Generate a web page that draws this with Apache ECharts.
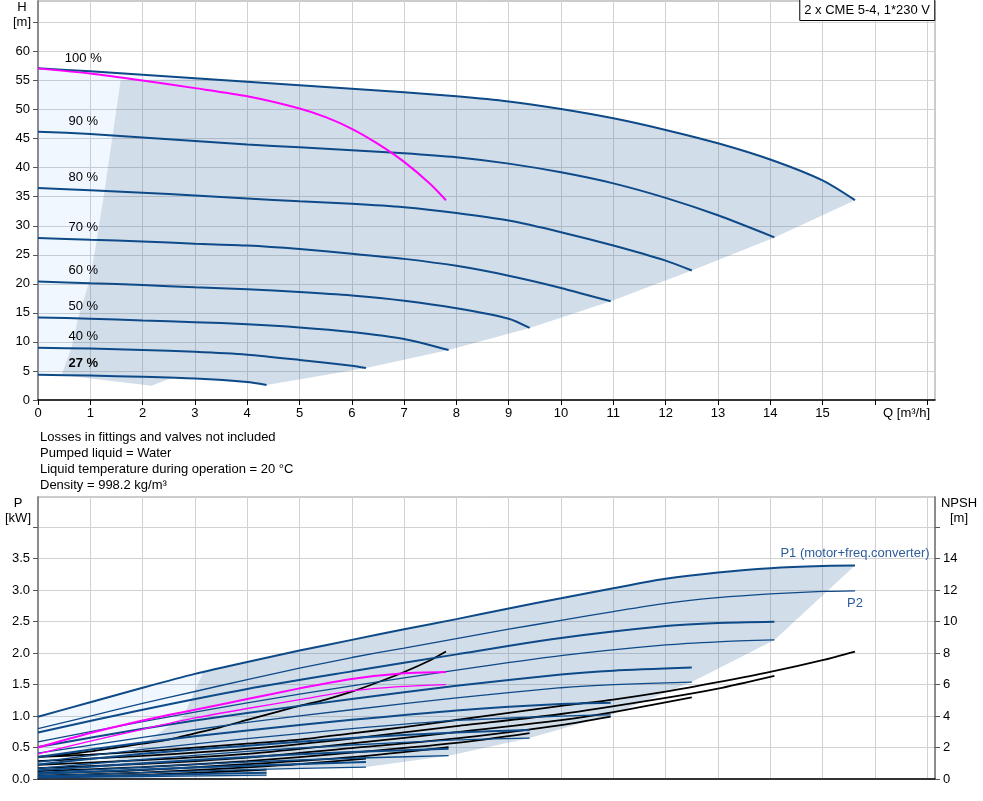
<!DOCTYPE html>
<html>
<head>
<meta charset="utf-8">
<title>2 x CME 5-4, 1*230 V</title>
<script src="https://cdn.jsdelivr.net/npm/echarts@6/dist/echarts.min.js"></script>
<style>
  html, body { margin: 0; padding: 0; background: #fff; }
  #chart { width: 983px; height: 801px; }
</style>
</head>
<body>
<div id="chart"></div>
<script>
// ---- data ----------------------------------------------------------------
// head curves H [m] vs Q [m³/h], two pumps, per speed
const h100 = [[0,57.1],[1,56.6],[2,56.0],[3,55.4],[4,54.8],[5,54.2],[6,53.6],[7,53.0],[8,52.3],[9,51.4],[10,50.1],[11,48.5],[12,46.5],[13,44.2],[14,41.4],[15,37.8],[15.62,34.4]];
const h90 = [[0,46.2],[1,45.8],[2,45.2],[3,44.6],[4,44.0],[5,43.5],[6,43.0],[7,42.5],[8,41.8],[9,40.7],[10,39.2],[11,37.3],[12,34.8],[13,31.8],[14.08,28.0]];
const h80 = [[0,36.5],[1,36.1],[2,35.7],[3,35.2],[4,34.7],[5,34.2],[6,33.8],[7,33.2],[8,32.2],[9,30.9],[10,28.9],[11,26.6],[12,24.0],[12.5,22.3]];
const h70 = [[0,27.9],[1,27.6],[2,27.3],[3,26.9],[4,26.6],[5,26.0],[6,25.2],[7,24.3],[8,23.1],[9,21.4],[10,19.3],[10.95,17.0]];
const h60 = [[0,20.4],[1,20.1],[2,19.8],[3,19.4],[4,19.05],[5,18.6],[6,18.0],[7,17.1],[8,15.8],[9,14.0],[9.4,12.4]];
const h50 = [[0,14.2],[1,14.0],[2,13.7],[3,13.4],[4,13.05],[5,12.5],[6,11.7],[7,10.5],[7.85,8.6]];
const h40 = [[0,9.0],[1,8.85],[2,8.6],[3,8.3],[4,7.8],[5,6.9],[6,5.9],[6.27,5.5]];
const h27 = [[0,4.35],[1,4.2],[2,4.0],[3,3.7],[4,3.1],[4.37,2.6]];
// one pump running (magenta)
const hSingle = [[0,57.1],[1,56.2],[2,55.0],[3,53.7],[4,52.3],[5,50.2],[5.5,48.7],[6,46.7],[6.5,44.1],[7,41.0],[7.5,37.2],[7.8,34.4]];
const speedLabels = ['100 %', '90 %', '80 %', '70 %', '60 %', '50 %', '40 %', '27 %'];

// operating area in the H chart
const hAreaLight = [[0,57.1],[1,56.6],[2,56.0],[3,55.4],[3.2,55.3],[1.58,55.0],[1.28,36.5],[1.09,25.7],[0.98,20.4],[0.77,14.2],[0.64,9.0],[0.45,4.3],[0,4.35]];
const hAreaDark = [[1.58,55.0],[3.2,55.3],[4,54.8],[5,54.2],[6,53.6],[7,53.0],[8,52.3],[9,51.4],[10,50.1],[11,48.5],[12,46.5],[13,44.2],[14,41.4],[15,37.8],[15.62,34.4],
  [14.08,28.0],[12.5,22.3],[10.95,17.0],[9.4,12.4],[7.85,8.6],[6.27,5.5],[4.37,2.6],[3,3.7],[2.59,3.9],[2.17,2.45],[0.45,4.3],
  [0.64,9.0],[0.77,14.2],[0.98,20.4],[1.09,25.7],[1.28,36.5]];

// power P1 (motor+freq.converter) and P2 [kW]
const p1_100 = [[0,0.99],[1,1.22],[2,1.45],[3,1.67],[4,1.86],[5,2.04],[6,2.21],[7,2.38],[8,2.54],[9,2.71],[10,2.87],[11,3.03],[12,3.18],[13,3.28],[14,3.35],[15,3.385],[15.62,3.39]];
const p2_100 = [[0,0.80],[1,1.00],[2,1.20],[3,1.39],[4,1.58],[5,1.76],[6,1.93],[7,2.08],[8,2.23],[9,2.38],[10,2.52],[11,2.66],[12,2.79],[13,2.88],[14,2.94],[15,2.98],[15.62,2.99]];
const p1_90 = [[0,0.74],[2,1.10],[4,1.43],[6,1.71],[8,1.98],[10,2.24],[12,2.43],[13,2.48],[14.08,2.50]];
const p2_90 = [[0,0.59],[2,0.91],[4,1.21],[6,1.48],[8,1.73],[10,1.96],[12,2.13],[13,2.18],[14.08,2.21]];
const p1_80 = [[0,0.51],[2,0.80],[4,1.05],[6,1.27],[8,1.48],[10,1.66],[11,1.72],[12.5,1.77]];
const p2_80 = [[0,0.41],[2,0.66],[4,0.90],[6,1.10],[8,1.29],[10,1.45],[11,1.50],[12.5,1.54]];
const p1_70 = [[0,0.35],[2,0.58],[4,0.77],[6,0.94],[8,1.09],[10,1.19],[10.95,1.21]];
const p2_70 = [[0,0.27],[2,0.47],[4,0.64],[6,0.80],[8,0.93],[10,1.00],[10.95,1.02]];
const p1_60 = [[0,0.23],[2,0.40],[4,0.53],[6,0.65],[8,0.74],[9.4,0.78]];
const p2_60 = [[0,0.17],[2,0.31],[4,0.44],[6,0.54],[8,0.62],[9.4,0.65]];
const p1_50 = [[0,0.14],[2,0.25],[4,0.35],[6,0.43],[7.85,0.48]];
const p2_50 = [[0,0.10],[2,0.19],[4,0.27],[6,0.33],[7.85,0.37]];
const p1_40 = [[0,0.08],[2,0.15],[4,0.21],[6.27,0.27]];
const p2_40 = [[0,0.05],[2,0.10],[4,0.15],[6.27,0.19]];
const p1_27 = [[0,0.03],[2,0.06],[4.37,0.10]];
const p2_27 = [[0,0.02],[2,0.04],[4.37,0.06]];
const p1Single = [[0,0.50],[1,0.73],[2,0.93],[3,1.10],[4,1.27],[5,1.44],[6,1.59],[7,1.68],[7.8,1.70]];
const p2Single = [[0,0.40],[1,0.60],[2,0.79],[3,0.97],[4,1.12],[5,1.26],[6,1.40],[7,1.47],[7.8,1.50]];

// operating area in the P chart
const pAreaLight = [[0,0.99],[1,1.22],[2,1.45],[3,1.67],[3.16,1.70],[2.78,0.99],[1.8,0.45],[0.9,0.01],[0,0]];
const pAreaDark = [[3.16,1.70],[4,1.86],[5,2.04],[6,2.21],[7,2.38],[8,2.54],[9,2.71],[10,2.87],[11,3.03],[12,3.18],[13,3.28],[14,3.35],[15,3.385],[15.62,3.39],
  [14.08,2.21],[12.5,1.54],[10.95,1.02],[9.4,0.65],[7.85,0.37],[6.27,0.19],[4.37,0.17],[4.37,0.04],[0.9,0.01],[1.8,0.45],[2.78,0.99]];

// NPSH [m]
const n100 = [[0,1.4],[1,1.55],[2,1.75],[3,2.0],[4,2.25],[5,2.5],[6,2.9],[7,3.3],[8,3.75],[9,4.2],[10,4.65],[11,5.05],[12,5.55],[13,6.15],[14,6.8],[15,7.55],[15.62,8.1]];
const n90 = [[0,1.13],[2,1.47],[4,1.91],[6,2.57],[8,3.36],[10,4.13],[12,5.16],[13,5.75],[14.08,6.56]];
const n80 = [[0,0.9],[2,1.2],[4,1.6],[6,2.26],[8,2.98],[10,3.74],[11,4.25],[12.5,5.18]];
const n70 = [[0,0.69],[2,0.96],[4,1.36],[6,1.96],[8,2.58],[10,3.43],[10.95,3.97]];
const n60 = [[0,0.5],[2,0.75],[4,1.14],[6,1.67],[8,2.29],[9.4,2.92]];
const n50 = [[0,0.35],[2,0.56],[4,0.94],[6,1.39],[7.85,2.03]];
const n40 = [[0,0.22],[2,0.4],[4,0.74],[5,0.94],[6.27,1.3]];
const n27 = [[0,0.1],[2,0.26],[4,0.54],[4.37,0.59]];
const nSingle = [[0,1.4],[0.5,1.55],[1,1.75],[1.5,2.0],[2,2.25],[2.5,2.5],[3,2.9],[3.5,3.3],[4,3.75],[4.5,4.2],[5,4.65],[5.5,5.05],[6,5.55],[6.5,6.15],[7,6.8],[7.5,7.55],[7.8,8.1]];

// axis ticks and tick labels
const qTicks = [0,1,2,3,4,5,6,7,8,9,10,11,12,13,14,15,16,17];
const qLabels = ['0','1','2','3','4','5','6','7','8','9','10','11','12','13','14','15'];
const hTicks = [0,5,10,15,20,25,30,35,40,45,50,55,60,65];
const hLabels = ['0','5','10','15','20','25','30','35','40','45','50','55','60'];
const pTicks = [0,0.5,1,1.5,2,2.5,3,3.5,4];
const pLabels = ['0.0','0.5','1.0','1.5','2.0','2.5','3.0','3.5'];
const npshTicks = [0,2,4,6,8,10,12,14,16];
const npshLabels = ['0','2','4','6','8','10','12','14'];
const notes = [
  'Losses in fittings and valves not included',
  'Pumped liquid = Water',
  'Liquid temperature during operation = 20 °C',
  'Density = 998.2 kg/m³'
];

// ---- chart ---------------------------------------------------------------
const FONT = 'Liberation Sans, Arial, sans-serif';
const BLUE = '#0d4a87';
const MAGENTA = '#ff00ff';
const GRIDLINE = '#d2d2d2';

const chart = echarts.init(document.getElementById('chart'), null, { renderer: 'canvas' });

function curve(data, xi, yi, color, width, extra) {
  return Object.assign({
    type: 'line', xAxisIndex: xi, yAxisIndex: yi, data: data,
    symbol: 'none', smooth: 0.25, silent: true, z: 3,
    lineStyle: { color: color, width: width }
  }, extra || {});
}

function area(points, xi, yi, fill) {
  return {
    type: 'custom', xAxisIndex: xi, yAxisIndex: yi, silent: true, z: 1,
    data: [[0, 0]],
    renderItem: (params, api) => ({
      type: 'polygon',
      shape: { points: points.map(p => api.coord(p)) },
      style: { fill: fill }
    })
  };
}

function tag(point, text, pos, color, bold, offset) {
  return {
    symbol: 'circle', symbolSize: 0, silent: true, animation: false,
    data: [{ coord: point }],
    label: {
      show: true, formatter: text, position: pos, distance: 6, offset: offset || [0, 0],
      color: color, fontSize: 13, fontFamily: FONT, fontWeight: bold ? 'bold' : 'normal'
    }
  };
}

const headCurves = [h100, h90, h80, h70, h60, h50, h40, h27];
const p1Curves = [p1_100, p1_90, p1_80, p1_70, p1_60, p1_50, p1_40, p1_27];
const p2Curves = [p2_100, p2_90, p2_80, p2_70, p2_60, p2_50, p2_40, p2_27];
const npshCurves = [n100, n90, n80, n70, n60, n50, n40, n27];

const series = [
  area(hAreaLight, 0, 0, 'rgba(60,150,240,0.08)'),
  area(hAreaDark, 0, 0, 'rgba(50,100,160,0.22)'),
  area(pAreaLight, 1, 1, 'rgba(60,150,240,0.08)'),
  area(pAreaDark, 1, 1, 'rgba(50,100,160,0.22)')
];

headCurves.forEach((d, i) => {
  series.push(curve(d, 0, 0, BLUE, 2, {
    markPoint: tag(d[1], speedLabels[i], 'top', '#000', i === headCurves.length - 1, [-7, 0])
  }));
});
series.push(curve(hSingle, 0, 0, MAGENTA, 2));

npshCurves.forEach(d => series.push(curve(d, 1, 2, '#000', 1.8)));
series.push(curve(nSingle, 1, 2, '#000', 1.8));

p2Curves.forEach((d, i) => {
  series.push(curve(d, 1, 1, BLUE, 1.3, i === 0 ? {
    markPoint: tag(d[d.length - 1], 'P2', 'bottom', '#2d5c9c', false)
  } : {}));
});
p1Curves.forEach((d, i) => {
  series.push(curve(d, 1, 1, BLUE, 2, i === 0 ? {
    markPoint: tag(d[d.length - 1], 'P1 (motor+freq.converter)', 'top', '#2d5c9c', false)
  } : {}));
});
series.push(curve(p2Single, 1, 1, MAGENTA, 1.3));
series.push(curve(p1Single, 1, 1, MAGENTA, 2));

const labelStyle = { color: '#000', fontSize: 13, fontFamily: FONT };
const greyAxis = { show: true, lineStyle: { color: '#8c8c8c', width: 2 } };
const split = { show: true, lineStyle: { color: GRIDLINE, width: 1 } };

function labelsOf(ticks, texts) {
  return ticks.slice(0, texts.length);
}
function labelFmt(ticks, texts) {
  return v => {
    const i = ticks.findIndex(t => Math.abs(t - v) < 1e-6);
    return i >= 0 && i < texts.length ? texts[i] : '';
  };
}

const option = {
  animation: false,
  backgroundColor: '#fff',
  title: {
    text: '2 x CME 5-4, 1*230 V',
    right: 48, top: -1,
    padding: [5, 5, 4, 5],
    borderColor: '#000', borderWidth: 1, backgroundColor: '#fff',
    textStyle: { fontSize: 13, fontWeight: 'normal', color: '#000', fontFamily: FONT }
  },
  grid: [
    { left: 38, top: 1, width: 897, height: 399, show: true, borderColor: '#9a9a9a', borderWidth: 1, outerBoundsMode: 'none' },
    { left: 38, top: 497, width: 897, height: 282, show: true, borderColor: '#9a9a9a', borderWidth: 1, outerBoundsMode: 'none' }
  ],
  xAxis: [
    {
      type: 'value', gridIndex: 0, min: 0, max: 17.15, interval: 1,
      axisLine: { show: true, onZero: false, lineStyle: { color: '#000', width: 1.5 } },
      axisTick: { show: true, length: 5, customValues: qTicks, lineStyle: { color: '#000' } },
      axisLabel: Object.assign({ margin: 7, customValues: labelsOf(qTicks, qLabels), formatter: labelFmt(qTicks, qLabels) }, labelStyle),
      splitLine: split
    },
    {
      type: 'value', gridIndex: 1, min: 0, max: 17.15, interval: 1,
      axisLine: { show: true, onZero: false, lineStyle: { color: '#000', width: 1.5 } },
      axisTick: { show: false },
      axisLabel: { show: false },
      splitLine: split
    }
  ],
  yAxis: [
    {
      type: 'value', gridIndex: 0, min: 0, max: 68.7, interval: 5,
      axisLine: greyAxis,
      axisTick: { show: true, length: 5, customValues: hTicks, lineStyle: { color: '#555' } },
      axisLabel: Object.assign({ margin: 8, customValues: labelsOf(hTicks, hLabels), formatter: labelFmt(hTicks, hLabels) }, labelStyle),
      splitLine: split
    },
    {
      type: 'value', gridIndex: 1, min: 0, max: 4.48, interval: 0.5,
      axisLine: greyAxis,
      axisTick: { show: true, length: 5, customValues: pTicks, lineStyle: { color: '#555' } },
      axisLabel: Object.assign({ margin: 8, customValues: labelsOf(pTicks, pLabels), formatter: labelFmt(pTicks, pLabels) }, labelStyle),
      splitLine: split
    },
    {
      type: 'value', gridIndex: 1, position: 'right', min: 0, max: 17.92, interval: 2,
      axisLine: greyAxis,
      axisTick: { show: true, length: 5, customValues: npshTicks, lineStyle: { color: '#555' } },
      axisLabel: Object.assign({ margin: 8, customValues: labelsOf(npshTicks, npshLabels), formatter: labelFmt(npshTicks, npshLabels) }, labelStyle),
      splitLine: { show: false }
    }
  ],
  graphic: [
    { type: 'text', x: 22, y: 0, style: { text: 'H\n[m]', align: 'center', verticalAlign: 'top', lineHeight: 15, font: '13px ' + FONT, fill: '#000' } },
    { type: 'text', x: 18, y: 496, style: { text: 'P\n[kW]', align: 'center', verticalAlign: 'top', lineHeight: 15, font: '13px ' + FONT, fill: '#000' } },
    { type: 'text', x: 959, y: 496, style: { text: 'NPSH\n[m]', align: 'center', verticalAlign: 'top', lineHeight: 15, font: '13px ' + FONT, fill: '#000' } },
    { type: 'text', x: 930, y: 413, style: { text: 'Q [m³/h]', align: 'right', verticalAlign: 'middle', font: '13px ' + FONT, fill: '#000' } },
    { type: 'text', x: 40, y: 429, style: { text: notes.join('\n'), align: 'left', verticalAlign: 'top', lineHeight: 16, font: '13px ' + FONT, fill: '#000' } }
  ],
  series: series
};

chart.setOption(option);
</script>
</body>
</html>
